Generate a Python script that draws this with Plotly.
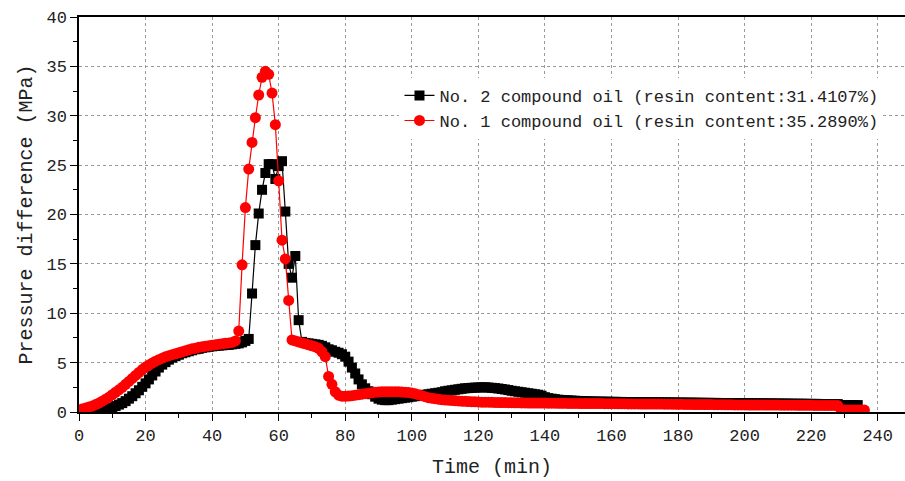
import plotly.graph_objects as go

# ---- data ----
time_no2 = list(range(0, 235))
pressure_no2 = [
    0, 0, 0, 0, 0, 0, 0.05, 0.1, 0.2, 0.3,
    0.45, 0.6, 0.75, 0.9, 1.1, 1.35, 1.6, 1.9, 2.2, 2.55,
    2.9, 3.3, 3.7, 4.1, 4.5, 4.8, 5.05, 5.3, 5.5, 5.65,
    5.8, 5.95, 6.05, 6.15, 6.25, 6.35, 6.4, 6.5, 6.55, 6.6,
    6.65, 6.7, 6.72, 6.75, 6.78, 6.8, 6.85, 6.9, 6.95, 7.05,
    7.2, 7.4, 12.0, 16.9, 20.1, 22.5, 24.2, 25.1, 25.1, 23.6,
    24.9, 25.4, 20.3, 15.0, 13.6, 15.8, 9.3, 7.1, 7.0, 6.95,
    6.9, 6.85, 6.8, 6.7, 6.55, 6.35, 6.25, 6.1, 6.0, 5.85,
    5.6, 5.1, 4.5, 3.9, 3.3, 2.8, 2.4, 2.1, 1.8, 1.55,
    1.35, 1.25, 1.2, 1.2, 1.25, 1.3, 1.35, 1.4, 1.45, 1.5,
    1.55, 1.6, 1.65, 1.7, 1.75, 1.8, 1.85, 1.9, 1.95, 2.0,
    2.1, 2.15, 2.2, 2.25, 2.3, 2.35, 2.4, 2.42, 2.45, 2.47,
    2.48, 2.5, 2.5, 2.48, 2.45, 2.42, 2.38, 2.33, 2.28, 2.22,
    2.15, 2.1, 2.05, 2.0, 1.95, 1.9, 1.85, 1.8, 1.75, 1.65,
    1.5, 1.4, 1.35, 1.3, 1.25, 1.22, 1.2, 1.18, 1.16, 1.14,
    1.12, 1.1, 1.09, 1.08, 1.07, 1.06, 1.05, 1.05, 1.04, 1.04,
    1.03, 1.03, 1.02, 1.02, 1.01, 1.01, 1.0, 1.0, 1.0, 0.99,
    0.99, 0.99, 0.98, 0.98, 0.98, 0.97, 0.97, 0.97, 0.96, 0.96,
    0.96, 0.95, 0.95, 0.95, 0.94, 0.94, 0.94, 0.93, 0.93, 0.93,
    0.92, 0.92, 0.92, 0.91, 0.91, 0.91, 0.9, 0.9, 0.9, 0.89,
    0.89, 0.89, 0.88, 0.88, 0.88, 0.87, 0.87, 0.87, 0.86, 0.86,
    0.86, 0.85, 0.85, 0.85, 0.84, 0.84, 0.84, 0.83, 0.83, 0.83,
    0.82, 0.82, 0.82, 0.81, 0.81, 0.81, 0.8, 0.8, 0.8, 0.7,
    0.7, 0.7, 0.7, 0.7, 0.7,
]

time_no1 = list(range(0, 237))
pressure_no1 = [
    0.2, 0.3, 0.4, 0.5, 0.6, 0.75, 0.9, 1.1, 1.3, 1.5,
    1.75, 2.0, 2.25, 2.5, 2.8, 3.1, 3.4, 3.7, 4.0, 4.3,
    4.55, 4.75, 4.95, 5.15, 5.3, 5.45, 5.6, 5.7, 5.8, 5.9,
    6.0, 6.1, 6.2, 6.3, 6.4, 6.45, 6.55, 6.6, 6.65, 6.7,
    6.75, 6.8, 6.85, 6.9, 6.95, 7.0, 7.05, 7.2, 8.2, 14.9,
    20.7, 24.6, 27.3, 29.8, 32.1, 33.9, 34.5, 34.2, 32.3, 29.1,
    23.4, 17.4, 15.5, 11.3, 7.3, 7.2, 7.1, 7.0, 6.9, 6.8,
    6.7, 6.6, 6.45, 6.1, 5.6, 3.6, 2.8, 2.05, 1.7, 1.6,
    1.6, 1.62, 1.65, 1.7, 1.75, 1.8, 1.85, 1.9, 1.95, 2.0,
    2.02, 2.05, 2.05, 2.05, 2.05, 2.05, 2.05, 2.02, 2.0, 1.98,
    1.92, 1.85, 1.75, 1.65, 1.55, 1.45, 1.4, 1.35, 1.3, 1.25,
    1.22, 1.2, 1.17, 1.15, 1.12, 1.1, 1.08, 1.06, 1.05, 1.03,
    1.02, 1.0, 1.0, 0.99, 0.98, 0.97, 0.96, 0.95, 0.95, 0.94,
    0.94, 0.93, 0.93, 0.92, 0.92, 0.91, 0.91, 0.9, 0.9, 0.9,
    0.9, 0.89, 0.89, 0.89, 0.88, 0.88, 0.88, 0.87, 0.87, 0.87,
    0.87, 0.86, 0.86, 0.86, 0.85, 0.85, 0.85, 0.85, 0.84, 0.84,
    0.84, 0.84, 0.83, 0.83, 0.83, 0.82, 0.82, 0.82, 0.82, 0.81,
    0.81, 0.81, 0.8, 0.8, 0.8, 0.8, 0.79, 0.79, 0.79, 0.78,
    0.78, 0.78, 0.77, 0.77, 0.77, 0.76, 0.76, 0.76, 0.75, 0.75,
    0.75, 0.74, 0.74, 0.74, 0.73, 0.73, 0.73, 0.72, 0.72, 0.72,
    0.72, 0.71, 0.71, 0.71, 0.71, 0.7, 0.7, 0.7, 0.7, 0.7,
    0.7, 0.69, 0.69, 0.69, 0.69, 0.69, 0.68, 0.68, 0.68, 0.68,
    0.68, 0.67, 0.67, 0.67, 0.67, 0.66, 0.66, 0.66, 0.65, 0.2,
    0.2, 0.2, 0.2, 0.2, 0.2, 0.2, 0.2,
]

name_no2 = "No. 2 compound oil (resin content:31.4107%)"
name_no1 = "No. 1 compound oil (resin content:35.2890%)"
x_title = "Time (min)"
y_title = "Pressure difference (MPa)"

FONT = "Liberation Mono"
TXT = "#222222"

fig = go.Figure()
fig.add_trace(go.Scatter(
    x=time_no2, y=pressure_no2, name=name_no2, mode="lines+markers",
    line=dict(color="#000000", width=1.2),
    marker=dict(symbol="square", size=10, color="#000000", line=dict(width=0)),
))
fig.add_trace(go.Scatter(
    x=time_no1, y=pressure_no1, name=name_no1, mode="lines+markers",
    line=dict(color="#ff0000", width=1.2),
    marker=dict(symbol="circle", size=11, color="#ff0000", line=dict(width=0)),
))

axis_common = dict(
    showline=True, linecolor="#000000", linewidth=1.5,
    ticks="outside", ticklen=7, tickwidth=1.3, tickcolor="#000000",
    showgrid=True, gridcolor="#9a9a9a", griddash="dot", gridwidth=1,
    zeroline=False,
    tickfont=dict(family=FONT, size=17, color=TXT),
)

fig.update_layout(
    width=905, height=481,
    margin=dict(l=79, r=0, t=17, b=69),
    paper_bgcolor="white", plot_bgcolor="white",
    showlegend=True,
    legend=dict(
        x=0.388, y=0.846, xanchor="left", yanchor="top",
        bgcolor="white", borderwidth=0,
        font=dict(family=FONT, size=17, color=TXT),
        tracegroupgap=0,
    ),
    xaxis=dict(
        range=[0, 248.2], tick0=0, dtick=20, mirror=True,
        minor=dict(dtick=10, ticks="outside", ticklen=4, tickwidth=1.3, tickcolor="#000000", showgrid=False),
        title=dict(text=x_title, font=dict(family=FONT, size=20, color=TXT), standoff=14),
        **axis_common,
    ),
    yaxis=dict(
        range=[0, 40], tick0=0, dtick=5,
        minor=dict(dtick=2.5, ticks="outside", ticklen=4, tickwidth=1.3, tickcolor="#000000", showgrid=False),
        title=dict(text=y_title, font=dict(family=FONT, size=20, color=TXT), standoff=8),
        **axis_common,
    ),
)

fig.write_html("out.html")
